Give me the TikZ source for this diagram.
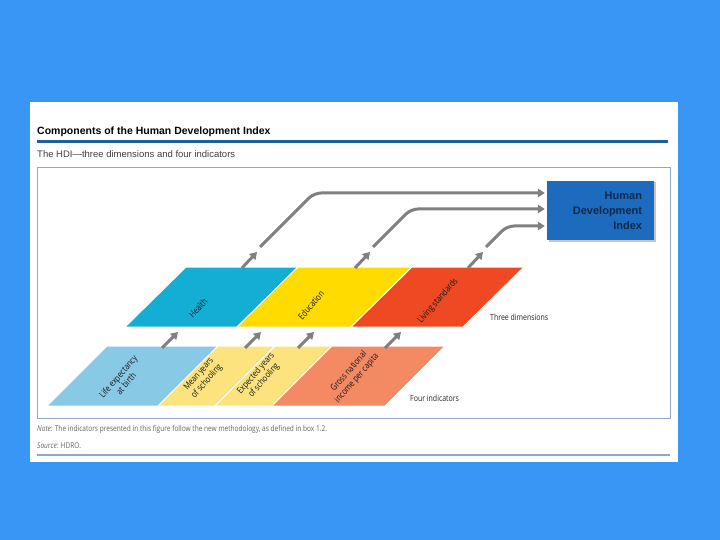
\documentclass[tikz,border=0pt]{standalone}
\usepackage{fontspec}
\setmainfont{Liberation Sans}
\newfontfamily\condfont[FakeStretch=0.82]{Open Sans}
\usepackage{xcolor}
\usetikzlibrary{arrows.meta,calc,positioning,shadows}
\definecolor{slideblue}{HTML}{3A96F4}
\definecolor{rulebl}{HTML}{1F5F9E}
\definecolor{framebl}{HTML}{8FA9C6}
\definecolor{hdiblue}{HTML}{1C6BBE}
\definecolor{hdinavy}{HTML}{10294A}
\definecolor{hlthcol}{HTML}{14AED5}
\definecolor{educcol}{HTML}{FFDB00}
\definecolor{livcol}{HTML}{EE4923}
\definecolor{lifecol}{HTML}{88C9E6}
\definecolor{schcol}{HTML}{FDE37E}
\definecolor{gnicol}{HTML}{F48A64}
\definecolor{arrowgray}{HTML}{808080}
\tikzset{
  flow/.style={arrowgray,line width=3pt,-{Triangle[length=7pt,width=8.5pt]}},
  link/.style={flow,rounded corners=7pt},
  dimlabel/.style={font=\condfont\fontsize{9}{10.5}\selectfont,text=black!90,rotate=49,align=center,inner sep=0pt},
  sidelabel/.style={font=\condfont\fontsize{8.5}{10}\selectfont,text=black!85,anchor=west,inner sep=0pt},
  notetext/.style={font=\condfont\fontsize{8}{9}\selectfont,text=black!60,anchor=base west,inner sep=0pt}
}

\begin{document}
\begin{tikzpicture}[x=1pt,y=-1pt]
  \fill[slideblue] (0,0) rectangle (720,540);
  \fill[white] (30,102) rectangle (678,462);
  \node[anchor=base west,inner sep=0pt,font=\bfseries\fontsize{10.5}{12}\selectfont] (title) at (37,135) {Components of the Human Development Index};
  \draw[rulebl,line width=3pt] (37,142) -- (668,142);
  \node[anchor=base west,inner sep=0pt,font=\fontsize{9.5}{11}\selectfont,text=black!75] (subtitle) at (37,158) {The HDI---three dimensions and four indicators};
  \draw[framebl,line width=1pt] (37,168) rectangle (670,418);
  % three dimensions
  \foreach \x/\w/\c in {125/112/hlthcol,237/114/educcol,351/112/livcol}
    \fill[\c,draw=white,line width=1pt] (\x,327) -- ++(\w,0) -- ++(61,-60) -- ++(-\w,0) -- cycle;
  % four indicators
  \foreach \x/\w/\c in {47/111/lifecol,158/57/schcol,215/57/schcol,272/113/gnicol}
    \fill[\c,draw=white,line width=1pt] (\x,406) -- ++(\w,0) -- ++(60,-60) -- ++(-\w,0) -- cycle;
  \node[dimlabel] (health) at (198,308) {Health};
  \node[dimlabel] (education) at (311,305) {Education};
  \node[dimlabel] (living) at (438,301) {Living standards};
  \node[dimlabel] (lifeexp) at (122,380) {Life expectancy\\at birth};
  \node[dimlabel] (meanyrs) at (203,378) {Mean years\\of schooling};
  \node[dimlabel] (expyrs) at (260,377) {Expected years\\of schooling};
  \node[dimlabel] (gni) at (353,375) {Gross national\\income per capita};
  \node[sidelabel] (threedim) at (490,317) {Three dimensions};
  \node[sidelabel] (fourind) at (410,398) {Four indicators};
  \node[fill=hdiblue,minimum width=107pt,minimum height=59pt,text width=83pt,align=right,inner xsep=12pt,
    font=\bfseries\fontsize{11}{15}\selectfont,text=hdinavy,
    drop shadow={opacity=0.45,shadow xshift=1.5pt,shadow yshift=-1.5pt}] (hdi) at (600.5,210.5) {Human\\Development\\Index};
  % arrows
  \foreach \n/\x in {lifeexp/162,meanyrs/245,expyrs/298,gni/385}{
    \coordinate (\n-tail) at (\x,348);
    \coordinate (\n-tip) at (\x+16,332);
    \draw[flow] (\n-tail) -- (\n-tip);
  }
  \foreach \n/\x/\d/\s in {health/242/54/17.5,education/355/38/1.5,living/468/21/-15.5}{
    \coordinate (\n-tail) at (\x,268);
    \coordinate (\n-tip) at (\x+15,252);
    \coordinate (\n-from) at (\x+18,247);
    \draw[flow] (\n-tail) -- (\n-tip);
    \draw[link] (\n-from) -- ++(\d,-\d) -- ([xshift=-2pt,yshift=\s pt]hdi.west);
  }
  \node[notetext] (note) at (37,431) {\textit{Note:} The indicators presented in this figure follow the new methodology, as defined in box 1.2.};
  \node[notetext] (source) at (37,448) {\textit{Source:} HDRO.};
  \draw[framebl,line width=1.2pt] (37,455) -- (670,455);
\end{tikzpicture}
\end{document}
